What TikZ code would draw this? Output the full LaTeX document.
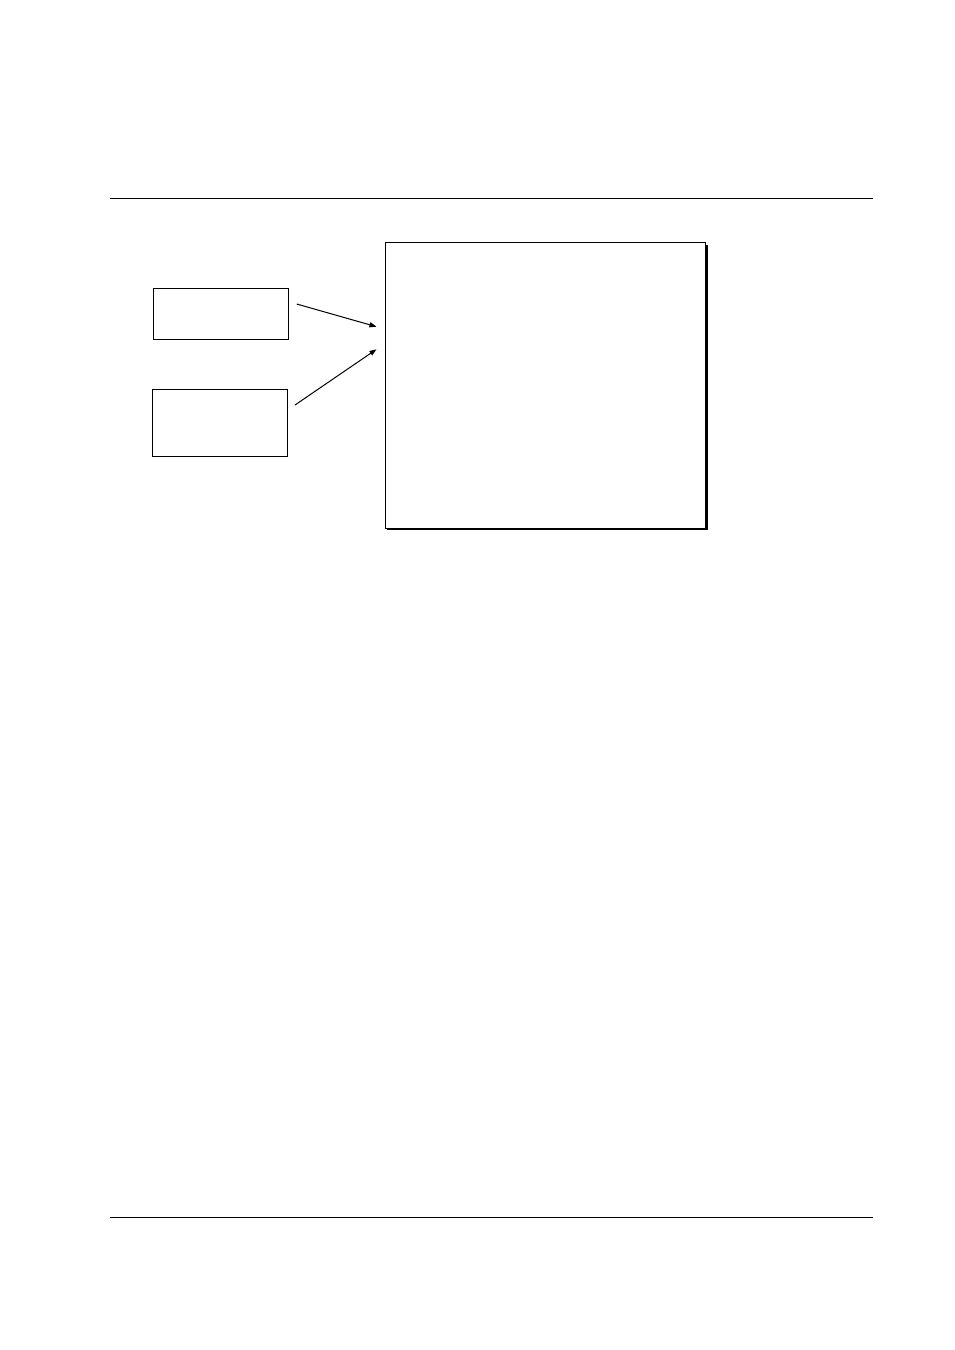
\documentclass[tikz,border=0pt]{standalone}
\usepackage{xcolor}
\usepackage{tikz}
\usetikzlibrary{arrows.meta,shadows}
\definecolor{ink}{HTML}{000000}
\definecolor{paper}{HTML}{FFFFFF}
\tikzset{
  rule/.style={draw=ink, line width=1pt},
  box/.style={draw=ink, fill=paper, line width=1pt, inner sep=0pt, anchor=north west},
  bigbox/.style={box, general shadow={fill=ink, shadow xshift=2pt, shadow yshift=-2pt}},
  flow/.style={draw=ink, line width=1pt, -{Triangle[length=7pt,width=5pt]}},
}
\begin{document}
\begin{tikzpicture}[x=1pt,y=-1pt]
  \useasboundingbox (0,0) rectangle (954,1350);
  \fill[paper] (0,0) rectangle (954,1350);
  % page rules
  \draw[rule] (110,198.3)--(872.7,198.3);
  \draw[rule] (110,1217.3)--(872.7,1217.3);
  % boxes
  \node[box, minimum width=135pt, minimum height=51pt] (srcA) at (153.3,288.3) {};
  \node[box, minimum width=135pt, minimum height=67pt] (srcB) at (151.7,389.3) {};
  \node[bigbox, minimum width=320.5pt, minimum height=285.5pt] (sink) at (384.5,242) {};
  \coordinate (outA) at (296.7,304);
  \coordinate (outB) at (295,405);
  \coordinate (inA) at (376.5,326.7);
  \coordinate (inB) at (376.5,349.3);
  \draw[flow] (outA)--(inA);
  \draw[flow] (outB)--(inB);
\end{tikzpicture}
\end{document}
